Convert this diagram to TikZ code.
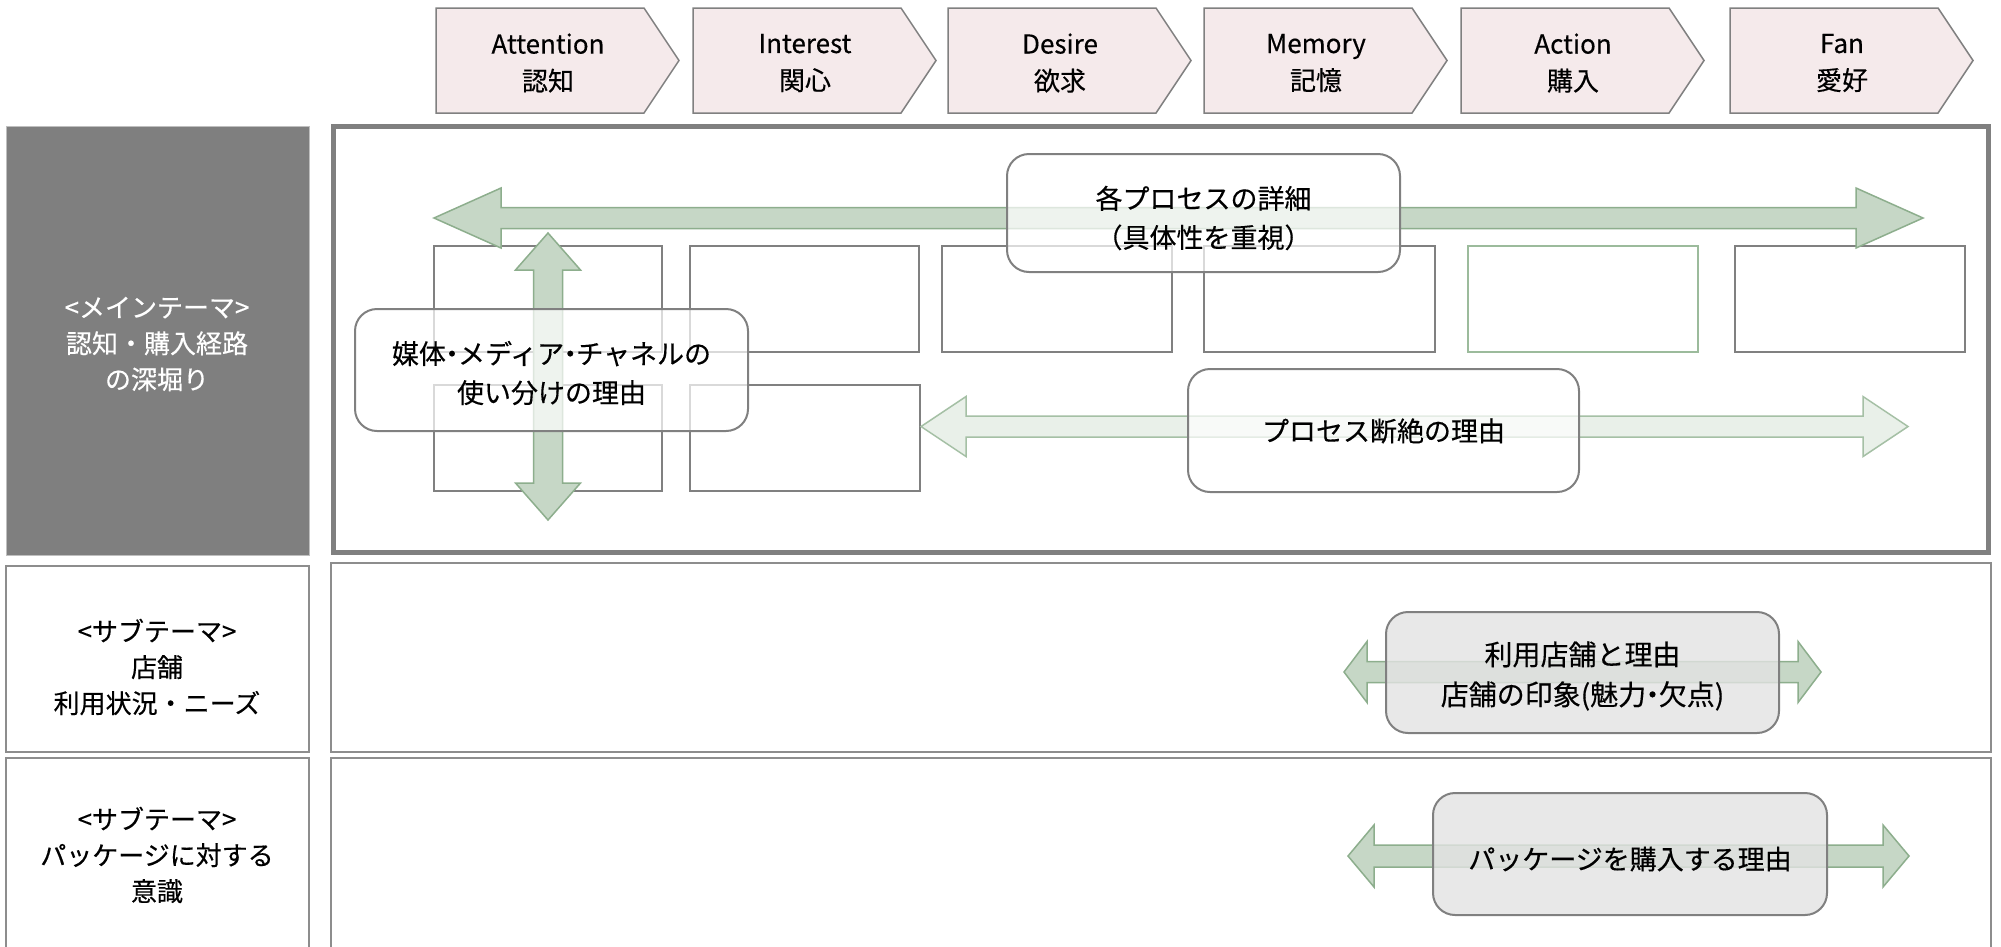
\documentclass[tikz,border=0pt]{standalone}
\usepackage{fontspec}
\setmainfont{Noto Sans CJK JP}[UprightFeatures={FakeBold=0.35}]
\definecolor{chevfill}{HTML}{F5EAEB}
\definecolor{linegray}{HTML}{808080}
\definecolor{panelgray}{HTML}{7F7F7F}
\definecolor{arrowfill}{HTML}{C6D7C6}
\definecolor{arrowline}{HTML}{8DAE8D}
\definecolor{lightarrow}{HTML}{E9F0E9}
\definecolor{lightarrowline}{HTML}{A5C0A5}
\definecolor{boxgray}{HTML}{E3E3E3}
\definecolor{greenline}{HTML}{9CBB9C}

% narrow katakana middle dot
\newcommand\nakaguro{\makebox[0.45em][c]{・}}

% horizontal double arrow: style, left tip x, right tip x, centre y, head length, head half-height, shaft half-height
\newcommand\hdarrow[7]{%
  \draw[#1] (#2,#4) -- ({#2+#5},{#4-#6}) -- ({#2+#5},{#4-#7}) -- ({#3-#5},{#4-#7})
    -- ({#3-#5},{#4-#6}) -- (#3,#4) -- ({#3-#5},{#4+#6}) -- ({#3-#5},{#4+#7})
    -- ({#2+#5},{#4+#7}) -- ({#2+#5},{#4+#6}) -- cycle;}
% vertical double arrow: style, top tip y, bottom tip y, centre x, head length, head half-width, shaft half-width
\newcommand\vdarrow[7]{%
  \draw[#1] (#4,#2) -- ({#4+#6},{#2+#5}) -- ({#4+#7},{#2+#5}) -- ({#4+#7},{#3-#5})
    -- ({#4+#6},{#3-#5}) -- (#4,#3) -- ({#4-#6},{#3-#5}) -- ({#4-#7},{#3-#5})
    -- ({#4-#7},{#2+#5}) -- ({#4-#6},{#2+#5}) -- cycle;}

\tikzset{
  chev/.style={fill=chevfill, draw=linegray, line width=1.5pt},
  chevtext/.style={align=center, font=\fontsize{26pt}{37pt}\selectfont, inner sep=0pt},
  frame/.style={draw=linegray, line width=5pt},
  rowbox/.style={draw=linegray!90, line width=2pt, fill=white},
  cell/.style={draw=linegray, line width=2pt},
  greencell/.style={draw=greenline, line width=2pt},
  bigarrow/.style={fill=arrowfill, draw=arrowline, line width=1.5pt},
  paler/.style={fill=lightarrow, draw=lightarrowline, line width=1.5pt},
  note/.style={draw=linegray, line width=2pt, rounded corners=22pt, fill=white, fill opacity=0.7},
  graynote/.style={draw=linegray, line width=2pt, rounded corners=22pt, fill=boxgray, fill opacity=0.8},
  notetext/.style={align=center, font=\fontsize{27pt}{39pt}\selectfont, inner sep=0pt, text=black},
  themetext/.style={align=center, font=\fontsize{26pt}{36pt}\selectfont, inner sep=0pt},
}

\begin{document}
\begin{tikzpicture}[x=1pt, y=-1pt]
\useasboundingbox (0,0) rectangle (2001,946);
\clip (0,0) rectangle (2001,946);

% ---- stage chevrons ----
\foreach \x/\n/\en/\jp in {436/att/Attention/認知, 693/int/Interest/関心, 948/des/Desire/欲求,
                           1204/mem/Memory/記憶, 1461/act/Action/購入, 1730/fan/Fan/愛好} {
  \draw[chev] (\x,8) -- ({\x+208},8) -- ({\x+243},60.5) -- ({\x+208},113) -- (\x,113) -- cycle;
  \node[chevtext] (\n) at ({\x+112},63) {\en\\\jp};
}

% ---- left theme column ----
\fill[panelgray] (6,126) rectangle (309,555);
\draw[draw=linegray!50, line width=1pt] (6,126) rectangle (309,555);
\node[themetext, text=white] (mainTheme) at (157,344) {<メインテーマ>\\認知・購入経路\\の深堀り};

\draw[rowbox] (6,566) rectangle (309,752);
\node[themetext] (subStore) at (157,667) {<サブテーマ>\\店舗\\利用状況・ニーズ};

\draw[rowbox] (6,758) rectangle (309,960);
\node[themetext] (subPack) at (157,855) {<サブテーマ>\\パッケージに対する\\意識};

% ---- right rows ----
\draw[rowbox] (331,563) rectangle (1991,752);
\draw[rowbox] (331,758) rectangle (1991,960);
\draw[frame, fill=white] (333,126) rectangle (1988,552);

% ---- process cells ----
\draw[cell] (434,246) rectangle (662,352);
\draw[cell] (690,246) rectangle (919,352);
\draw[cell] (942,246) rectangle (1172,352);
\draw[cell] (1204,246) rectangle (1435,352);
\draw[greencell] (1468,246) rectangle (1698,352);
\draw[cell] (1735,246) rectangle (1965,352);
\draw[cell] (434,385) rectangle (662,491);
\draw[cell] (690,385) rectangle (920,491);

% ---- arrows ----
\hdarrow{bigarrow}{434}{1923}{218}{67}{30}{10.5}
\vdarrow{bigarrow}{233}{520}{548}{37}{32.5}{14.5}
\hdarrow{paler}{921}{1908}{426.5}{45}{30}{10.5}
\hdarrow{bigarrow}{1344}{1821}{672}{23}{30.5}{10.5}
\hdarrow{bigarrow}{1348}{1909}{856}{26}{31}{11}

% ---- note boxes ----
\draw[note] (1007,154) rectangle (1400,272);
\node[notetext] (detail) at (1203.5,218) {各プロセスの詳細\\（具体性を重視）};

\draw[note] (355,309) rectangle (748,431);
\node[notetext] (media) at (551.5,373) {媒体\nakaguro メディア\nakaguro チャネルの\\使い分けの理由};

\draw[note] (1188,369) rectangle (1579,492);
\node[notetext] (break) at (1383.5,431) {プロセス断絶の理由};

\draw[graynote] (1386,612) rectangle (1779,733);
\node[notetext, font=\fontsize{28pt}{40pt}\selectfont] (store) at (1582.5,676) {利用店舗と理由\\店舗の印象(魅力\nakaguro 欠点)};

\draw[graynote] (1433,793) rectangle (1827,915);
\node[notetext] (pack) at (1630,859) {パッケージを購入する理由};
\end{tikzpicture}
\end{document}
